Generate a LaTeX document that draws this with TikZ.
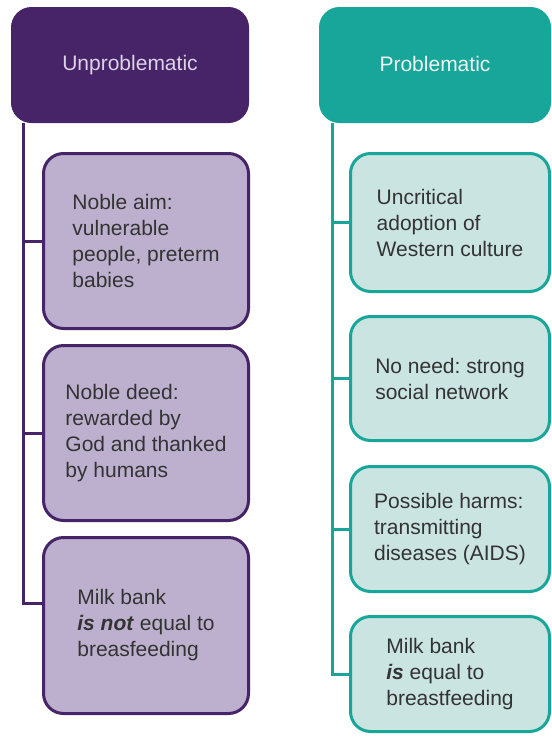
\documentclass[tikz,border=0pt]{standalone}
\usepackage{fontspec}
\setmainfont{Liberation Sans}
\frenchspacing
\definecolor{pdark}{HTML}{472368}
\definecolor{plight}{HTML}{BDB0CE}
\definecolor{ptext}{HTML}{DDD3E8}
\definecolor{tdark}{HTML}{17A699}
\definecolor{tlight}{HTML}{CAE4E2}
\definecolor{ttext}{HTML}{EEF6F5}
\definecolor{btext}{HTML}{333333}
\begin{document}
\begin{tikzpicture}[x=1pt,y=-1pt,
  hdr/.style={rounded corners=20pt, inner sep=0pt, font=\fontsize{21}{26}\selectfont},
  hdrL/.style={hdr, fill=pdark, draw=pdark, line width=1pt, text=ptext},
  hdrR/.style={hdr, fill=tdark, draw=tdark, line width=1pt, text=ttext},
  itembox/.style={rounded corners=20pt, line width=3pt, inner sep=0pt, align=left,
    text=btext, font=\fontsize{21}{26}\selectfont\frenchspacing},
  itemL/.style={itembox, draw=pdark, fill=plight, minimum width=205pt},
  itemR/.style={itembox, draw=tdark, fill=tlight, minimum width=199pt},
  linkL/.style={draw=pdark, line width=3pt},
  linkR/.style={draw=tdark, line width=3pt}]
\useasboundingbox (0,0) rectangle (552,737);
% headers
\node[hdrL, minimum width=237pt, minimum height=115pt] (hL) at (130,65) {\raisebox{1.5pt}{Unproblematic}};
\node[hdrR, minimum width=231pt, minimum height=115pt] (hR) at (435,65) {\raisebox{2.5pt}{Problematic}};
% left items
\node[itemL, minimum height=175pt] (bL1) at (146,241) {Noble aim:\\vulnerable\\people, preterm\\babies};
\node[itemL, minimum height=175pt] (bL2) at (146,433) {Noble deed:\\rewarded by\\God and thanked\\by humans};
\node[itemL, minimum height=176pt] (bL3) at (146,625.5) {Milk bank\\\textbf{\textit{is not}} equal to\\breasfeeding};
% right items
\node[itemR, minimum height=138pt] (bR1) at (450,222.5) {Uncritical\\adoption of\\Western culture};
\node[itemR, minimum height=124pt] (bR2) at (450,378.5) {No need: strong\\social network};
\node[itemR, minimum height=125pt] (bR3) at (450,529) {Possible harms:\\transmitting\\diseases (AIDS)};
\node[itemR, minimum height=115pt] (bR4) at (450,674) {Milk bank\\\textbf{\textit{is}} equal to\\breastfeeding};
% trunks
\coordinate (tL) at (23,0);
\coordinate (tR) at (332,0);
\draw[linkL] (tL |- hL.south) |- ([yshift=22pt]bL3.west);
\draw[linkL] (tL |- bL1.west) -- (bL1.west);
\draw[linkL] (tL |- bL2.west) -- (bL2.west);
\draw[linkR] (tR |- hR.south) |- (bR4.west);
\draw[linkR] (tR |- bR1.west) -- (bR1.west);
\draw[linkR] (tR |- bR2.west) -- (bR2.west);
\draw[linkR] (tR |- bR3.west) -- (bR3.west);
\end{tikzpicture}
\end{document}
